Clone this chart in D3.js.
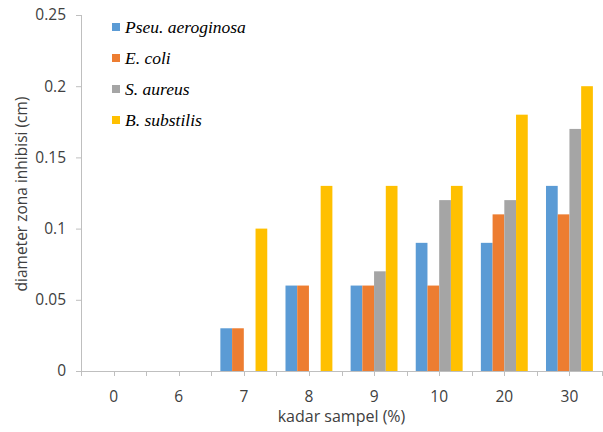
<!DOCTYPE html>
<html>
<head>
<meta charset="utf-8">
<script src="https://cdn.jsdelivr.net/npm/d3@7"></script>
<style>
  body { margin: 0; background: #fff; }
  .axis text { font-family: 'Open Sans', sans-serif; font-size: 15.5px; fill: #404040; }
  .axis path, .axis line { stroke: #bfbfbf; }
</style>
</head>
<body>
<svg width="603" height="432"></svg>
<script>
// Data
var categories = ['0', '6', '7', '8', '9', '10', '20', '30'];
var seriesNames = ['Pseu. aeroginosa', 'E. coli', 'S. aureus', 'B. substilis'];
var pseuValues = [0, 0, 0.03, 0.06, 0.06, 0.09, 0.09, 0.13];
var ecoliValues = [0, 0, 0.03, 0.06, 0.06, 0.06, 0.11, 0.11];
var aureusValues = [0, 0, 0, 0, 0.07, 0.12, 0.12, 0.17];
var subtilisValues = [0, 0, 0.10, 0.13, 0.13, 0.13, 0.18, 0.20];
var yTicks = [0, 0.05, 0.1, 0.15, 0.2, 0.25];
var colors = ['#5b9bd5', '#ed7d31', '#a5a5a5', '#ffc000'];

var seriesValues = [pseuValues, ecoliValues, aureusValues, subtilisValues];

var svg = d3.select('svg');
var padding = {t: 15, r: 1, b: 61, l: 81};
var chartWidth = +svg.attr('width') - padding.l - padding.r;
var chartHeight = +svg.attr('height') - padding.t - padding.b;

var chartG = svg.append('g')
    .attr('transform', 'translate(' + [padding.l, padding.t] + ')');

var xScale = d3.scaleBand()
    .domain(categories)
    .range([0, chartWidth])
    .paddingInner(0.28)
    .paddingOuter(0.14);

var x1 = d3.scaleBand()
    .domain(d3.range(seriesNames.length))
    .range([0, xScale.bandwidth()]);

var yScale = d3.scaleLinear()
    .domain([0, 0.25])
    .range([chartHeight, 0]);

// Y axis
var yAxisG = chartG.append('g')
    .attr('class', 'y axis')
    .call(d3.axisLeft(yScale).tickValues(yTicks).tickSize(5).tickPadding(10)
        .tickFormat(function(d) { return d === 0 ? '0' : String(+d.toFixed(2)); }));
yAxisG.select('.domain').attr('d', 'M0.5,' + chartHeight + 'V0');

// X axis: ticks at half-category spacing, labels at category centres
var step = chartWidth / categories.length;
var xAxisG = chartG.append('g')
    .attr('class', 'x axis')
    .attr('transform', 'translate(0,' + chartHeight + ')');
xAxisG.append('line')
    .attr('x1', 0).attr('x2', chartWidth)
    .attr('y1', 0.5).attr('y2', 0.5);
xAxisG.selectAll('.tickmark')
    .data(d3.range(categories.length * 2 + 1))
    .enter().append('line')
    .attr('class', 'tickmark')
    .attr('x1', function(i) { return Math.round(i * step / 2) + 0.5; })
    .attr('x2', function(i) { return Math.round(i * step / 2) + 0.5; })
    .attr('y1', 0).attr('y2', 5);
xAxisG.selectAll('.label')
    .data(categories)
    .enter().append('text')
    .attr('class', 'label')
    .attr('x', function(d) { return xScale(d) + xScale.bandwidth() / 2; })
    .attr('y', 31)
    .attr('text-anchor', 'middle')
    .text(function(d) { return d; });

// Bars
var groups = chartG.selectAll('.group')
    .data(categories)
    .enter().append('g')
    .attr('class', 'group')
    .attr('transform', function(d) { return 'translate(' + xScale(d) + ',0)'; });

groups.selectAll('rect')
    .data(function(d, i) {
        return seriesValues.map(function(vals, s) { return {s: s, v: vals[i]}; });
    })
    .enter().append('rect')
    .attr('x', function(d) { return x1(d.s); })
    .attr('width', x1.bandwidth())
    .attr('y', function(d) { return yScale(d.v); })
    .attr('height', function(d) { return chartHeight - yScale(d.v); })
    .attr('fill', function(d) { return colors[d.s]; });

// Axis titles
svg.append('text')
    .attr('transform', 'translate(27,' + (padding.t + chartHeight / 2 + 1) + ') rotate(-90)')
    .attr('text-anchor', 'middle')
    .style('font-family', "'Open Sans', sans-serif")
    .style('font-size', '15.5px')
    .style('fill', '#404040')
    .text('diameter zona inhibisi (cm)');

svg.append('text')
    .attr('x', padding.l + chartWidth / 2)
    .attr('y', 422)
    .attr('text-anchor', 'middle')
    .style('font-family', "'Open Sans', sans-serif")
    .style('font-size', '16px')
    .style('fill', '#404040')
    .text('kadar sampel (%)');

// Legend
var legend = svg.append('g')
    .attr('transform', 'translate(112,27)');
var items = legend.selectAll('.item')
    .data(seriesNames)
    .enter().append('g')
    .attr('class', 'item')
    .attr('transform', function(d, i) { return 'translate(0,' + (i * 31) + ')'; });
items.append('rect')
    .attr('x', 0).attr('y', -4)
    .attr('width', 8).attr('height', 8)
    .attr('fill', function(d, i) { return colors[i]; });
items.append('text')
    .attr('x', 13)
    .attr('y', 5.5)
    .style('font-family', "'Liberation Serif', serif")
    .style('font-style', 'italic')
    .style('font-size', '17.5px')
    .style('fill', '#000')
    .text(function(d) { return d; });
</script>
</body>
</html>
